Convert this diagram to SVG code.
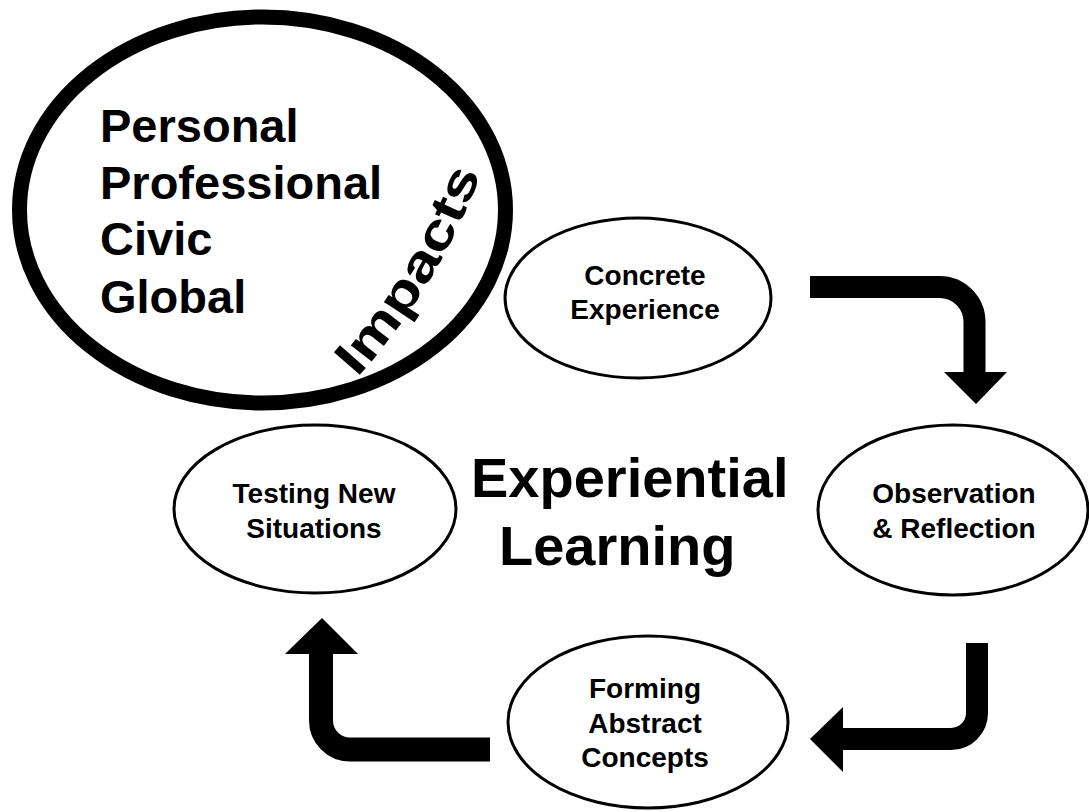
<svg xmlns="http://www.w3.org/2000/svg" width="1089" height="812" viewBox="0 0 1089 812">
  <style>
    .t { font-family: "Liberation Sans", Arial, sans-serif; font-weight: bold; fill: #000; }
    .node { fill: #fff; stroke: #000; stroke-width: 3; }
    .big { fill: #fff; stroke: #000; stroke-width: 15; }
    .lbl { font-size: 28px; text-anchor: middle; }
    .imp { font-size: 47px; }
    .bar { fill: none; stroke: #000; stroke-linejoin: miter; }
    .head { fill: #000; stroke: none; }
  </style>
  <defs>
    <path id="impactsArc" d="M357,378 A640,640 0 0 0 483,168"/>
  </defs>
  <rect width="1089" height="812" fill="#fff"/>

  <g id="impacts">
    <ellipse class="big" cx="262.5" cy="210" rx="243" ry="193"/>
    <text class="t imp" x="100" y="142">Personal</text>
    <text class="t imp" x="100" y="199">Professional</text>
    <text class="t imp" x="100" y="255">Civic</text>
    <text class="t imp" x="100" y="313">Global</text>
    <text class="t" font-size="50"><textPath href="#impactsArc" startOffset="0" textLength="240" lengthAdjust="spacingAndGlyphs">Impacts</textPath></text>
  </g>

  <g id="concrete-experience">
    <ellipse class="node" cx="638" cy="298" rx="133" ry="80"/>
    <text class="t lbl" x="645" y="285">Concrete</text>
    <text class="t lbl" x="645" y="319">Experience</text>
  </g>

  <g id="observation-reflection">
    <ellipse class="node" cx="953" cy="510" rx="135" ry="85"/>
    <text class="t lbl" x="954" y="503">Observation</text>
    <text class="t lbl" x="954" y="538">&amp; Reflection</text>
  </g>

  <g id="forming-abstract-concepts">
    <ellipse class="node" cx="648" cy="722" rx="140" ry="86"/>
    <text class="t lbl" x="645" y="698">Forming</text>
    <text class="t lbl" x="645" y="733">Abstract</text>
    <text class="t lbl" x="645" y="767">Concepts</text>
  </g>

  <g id="testing-new-situations">
    <ellipse class="node" cx="315" cy="509" rx="141" ry="84"/>
    <text class="t lbl" x="314" y="503">Testing New</text>
    <text class="t lbl" x="314" y="538">Situations</text>
  </g>

  <g id="center-title">
    <text class="t" font-size="56" x="471" y="497">Experiential</text>
    <text class="t" font-size="56" x="499" y="565">Learning</text>
  </g>

  <g id="connectors">
    <path class="bar" stroke-width="22" d="M810,287 H939.5 A35,35 0 0 1 974.5,322 V373"/>
    <polygon class="head" points="944,372 1007,372 976,404"/>
    <path class="bar" stroke-width="22" d="M977,643 V713 A26,26 0 0 1 951,739 H842"/>
    <polygon class="head" points="843,707 843,772 810,739"/>
    <path class="bar" stroke-width="24" d="M490,749.5 H350 A29,29 0 0 1 321,720.5 V653"/>
    <polygon class="head" points="285,654 358,654 322,618"/>
  </g>
</svg>
